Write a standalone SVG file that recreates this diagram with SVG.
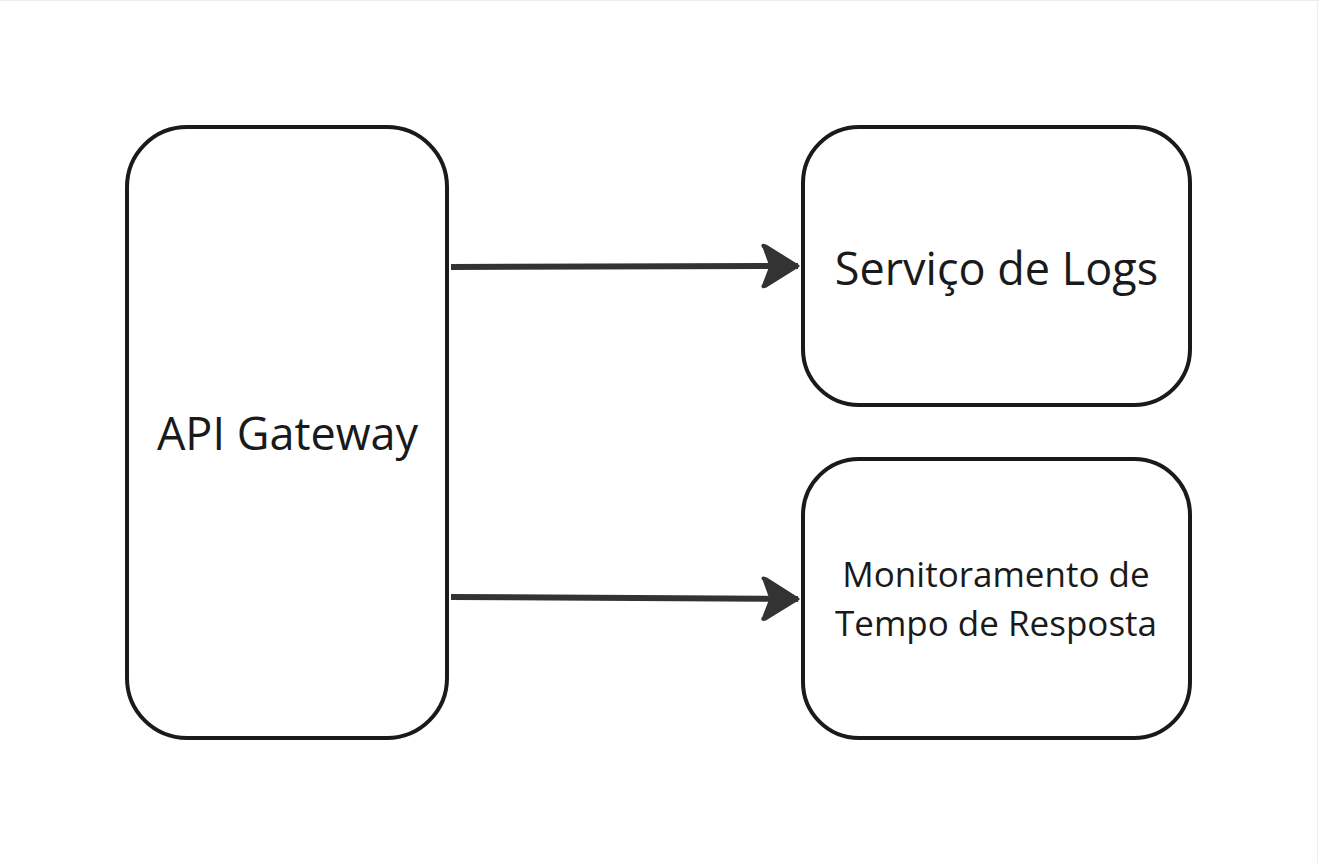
<svg xmlns="http://www.w3.org/2000/svg" width="1319" height="863" viewBox="0 0 1319 863">
<style>
.box{fill:#fff;stroke:#1a1a1a;stroke-width:4}
.t{font-family:"Open Sans",sans-serif;fill:#1a1a1a;text-anchor:middle}
.conn{stroke:#333;stroke-width:6;fill:none}
</style>
<defs>
<marker id="ah" markerUnits="userSpaceOnUse" markerWidth="44" markerHeight="48" refX="40" refY="22" orient="auto" viewBox="0 0 44 44">
<path d="M6 3 Q3 0 8 2 L40 22 L8 42 Q3 44 6 40 L13 22 Z" fill="#333" stroke="#333" stroke-width="3" stroke-linejoin="round"/>
</marker>
</defs>
<rect width="1319" height="863" fill="#fff"/>
<line x1="0" y1="0.5" x2="1319" y2="0.5" stroke="#eee"/>
<line x1="1317.5" y1="0" x2="1317.5" y2="863" stroke="#eee"/>
<g id="api-gateway">
<rect class="box" x="127" y="127" width="320" height="611" rx="60"/>
<text class="t" x="287.5" y="450" font-size="45">API Gateway</text>
</g>
<g id="servico-logs">
<rect class="box" x="803" y="127" width="387" height="278" rx="56"/>
<text class="t" x="996.5" y="285" font-size="45">Serviço de Logs</text>
</g>
<g id="monitoramento">
<rect class="box" x="803" y="459" width="387" height="279" rx="56"/>
<text class="t" x="996" y="587" font-size="35">Monitoramento de</text>
<text class="t" x="996" y="636" font-size="35">Tempo de Resposta</text>
</g>
<g id="connectors">
<line class="conn" x1="451" y1="267" x2="798" y2="266" marker-end="url(#ah)"/>
<line class="conn" x1="451" y1="597" x2="798" y2="599" marker-end="url(#ah)"/>
</g>
</svg>
